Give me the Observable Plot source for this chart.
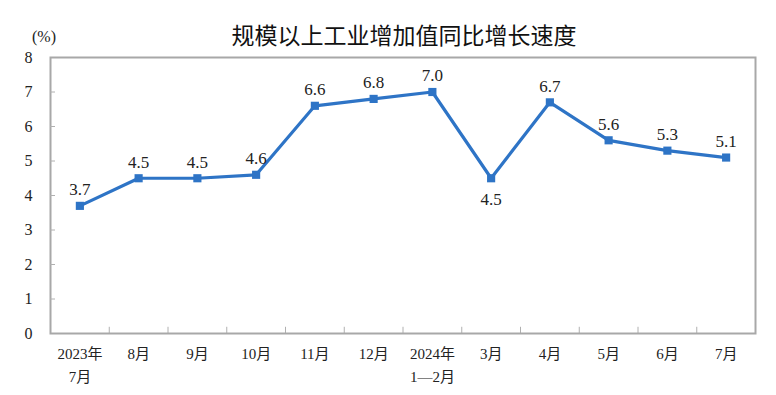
<!DOCTYPE html>
<html>
<head>
<meta charset="utf-8">
<script src="https://cdn.jsdelivr.net/npm/d3@7"></script>
<script src="https://cdn.jsdelivr.net/npm/@observablehq/plot@0.6"></script>
<style>
  body { margin: 0; background: #fff; }
  #wrap { position: relative; width: 776px; height: 395px; }
  #title { position: absolute; left: 0; width: 776px; top: 23px; text-align: center; padding-left: 32px; box-sizing: border-box;
    font-family: "Noto Sans CJK SC", sans-serif; font-size: 23px; font-weight: 400; color: #111; line-height: 1; }
  #unit { position: absolute; left: 32px; top: 29px; font-family: "Liberation Serif", serif; font-size: 16px; color: #222; line-height: 1; }
  #chart { position: absolute; left: 0; top: 0; }
</style>
</head>
<body>
<div id="wrap">
  <div id="chart"></div>
  <div id="title">规模以上工业增加值同比增长速度</div>
  <div id="unit">(%)</div>
</div>
<script>
const categories = ["2023年\n7月", "8月", "9月", "10月", "11月", "12月", "2024年\n1—2月", "3月", "4月", "5月", "6月", "7月"];
const values = [3.7, 4.5, 4.5, 4.6, 6.6, 6.8, 7.0, 4.5, 6.7, 5.6, 5.3, 5.1];
const labelBelow = [false, false, false, false, false, false, false, true, false, false, false, false];
const yTicks = [0, 1, 2, 3, 4, 5, 6, 7, 8];

const data = categories.map((c, i) => ({cat: c, value: values[i], below: labelBelow[i]}));

const W = 776, H = 395;
const mL = 50, mR = 21, mT = 57, mB = 62;
const bw = (W - mL - mR) / categories.length;
const blue = "#2e74c6";
const serif = "'Liberation Serif', 'Noto Sans CJK SC', serif";

const chart = Plot.plot({
  width: W,
  height: H,
  marginLeft: mL,
  marginRight: mR,
  marginTop: mT,
  marginBottom: mB,
  style: {fontFamily: serif, background: "transparent"},
  x: {type: "band", domain: categories, padding: 0, round: false, label: null},
  y: {domain: [0, 8], label: null},
  marks: [
    Plot.ruleX(categories.slice(1), {x: d => d, dx: -bw / 2, y1: 0, y2: 0.18, stroke: "#b0b0b0", strokeWidth: 1}),
    Plot.frame({stroke: "#a8a8a8", strokeWidth: 2}),
    Plot.axisY({ticks: yTicks.slice(1, -1), tickSize: -5, tickPadding: 0, text: null, stroke: "#b0b0b0", label: null}),
    Plot.axisY({ticks: yTicks, tickSize: 0, tickPadding: 18, fontSize: 16, fill: "#222", label: null}),
    Plot.axisX({tickSize: 0, tickPadding: 10, fontSize: 15, lineHeight: 1.5, fill: "#222", label: null}),
    Plot.line(data, {x: "cat", y: "value", stroke: blue, strokeWidth: 3.2}),
    Plot.dot(data, {x: "cat", y: "value", symbol: "square", r: 4.6, fill: blue, stroke: "none"}),
    Plot.text(data.filter(d => !d.below), {x: "cat", y: "value", text: d => d.value.toFixed(1), dy: -16, fontSize: 17, fill: "#222"}),
    Plot.text(data.filter(d => d.below), {x: "cat", y: "value", text: d => d.value.toFixed(1), dy: 21, fontSize: 17, fill: "#222"})
  ]
});
document.getElementById("chart").appendChild(chart);
</script>
</body>
</html>
